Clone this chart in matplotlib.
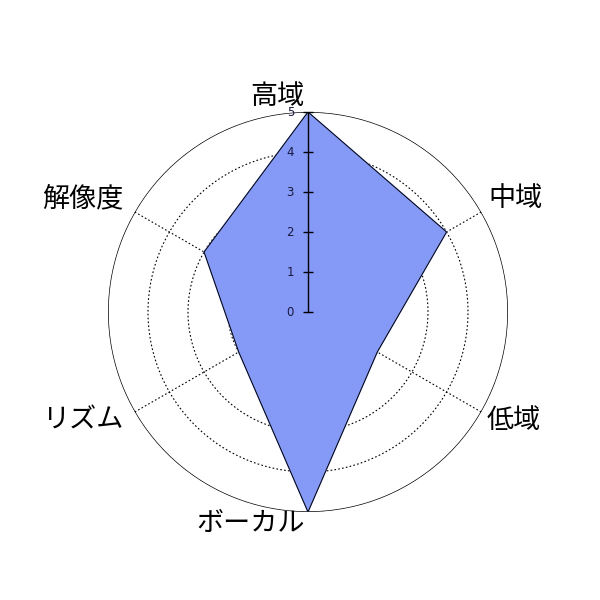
import numpy as np
import matplotlib
matplotlib.use('Agg')
import matplotlib.pyplot as plt

plt.rcParams['font.family'] = ['Noto Sans CJK JP', 'DejaVu Sans']

labels = ['高域', '中域', '低域', 'ボーカル', 'リズム', '解像度']
values = [5, 4, 2, 5, 2, 3]
rticks = [0, 1, 2, 3, 4, 5]
# label offsets in pixels from the r=5 point, and alignment
offs = [(-3, 15), (7, 13), (5, -8), (-3, -11), (-11, -8), (-11, 13)]
has = ['right', 'left', 'left', 'right', 'right', 'right']

n = len(labels)
ang = np.arange(n) * 2 * np.pi / n

fig = plt.figure(figsize=(6, 6), dpi=100)
ax = fig.add_axes([108 / 600, 88 / 600, 400 / 600, 400 / 600], projection='polar')
ax.set_theta_zero_location('N')
ax.set_theta_direction(-1)
ax.set_ylim(0, 5)
ax.grid(False)
ax.set_xticks([])
ax.set_yticks([])
ax.spines['polar'].set_visible(False)
ax.patch.set_visible(False)

t = np.linspace(0, 2 * np.pi, 400)
for r in rticks[1:-1]:
    ax.plot(t, np.full_like(t, r), color='black', ls=(0, (1.5, 2)), lw=0.8, zorder=1)
ax.plot(t, np.full_like(t, 5), color='black', lw=1.0, zorder=1)
for a in ang:
    ax.plot([a, a], [0, 5], color='black', ls=(0, (1.5, 2)), lw=0.8, zorder=1)

# data polygon
th = np.append(ang, ang[0])
vv = np.append(values, values[0])
ax.fill(th, vv, color='#8599F7', zorder=2)
ax.plot(th, vv, color='black', lw=0.7, zorder=3)

# radial axis with ticks
ax.plot([0, 0], [0, 5], color='black', lw=1, zorder=4)
ax.plot(np.zeros(len(rticks)), rticks, ls='none', marker='_', ms=7, mew=1,
        color='black', zorder=4, clip_on=False)
for r in rticks:
    ax.annotate(str(r), xy=(0, r), xytext=(-14, 0), textcoords='offset pixels',
                ha='right', va='center', fontsize=8.5, color='#1a1a40',
                family='DejaVu Sans', zorder=5, annotation_clip=False)

for a, lab, o, h in zip(ang, labels, offs, has):
    ax.annotate(lab, xy=(a, 5), xytext=o, textcoords='offset pixels',
                ha=h, va='center', fontsize=19.5, color='black',
                annotation_clip=False)

fig.savefig('out.png', dpi=100, facecolor='white')
